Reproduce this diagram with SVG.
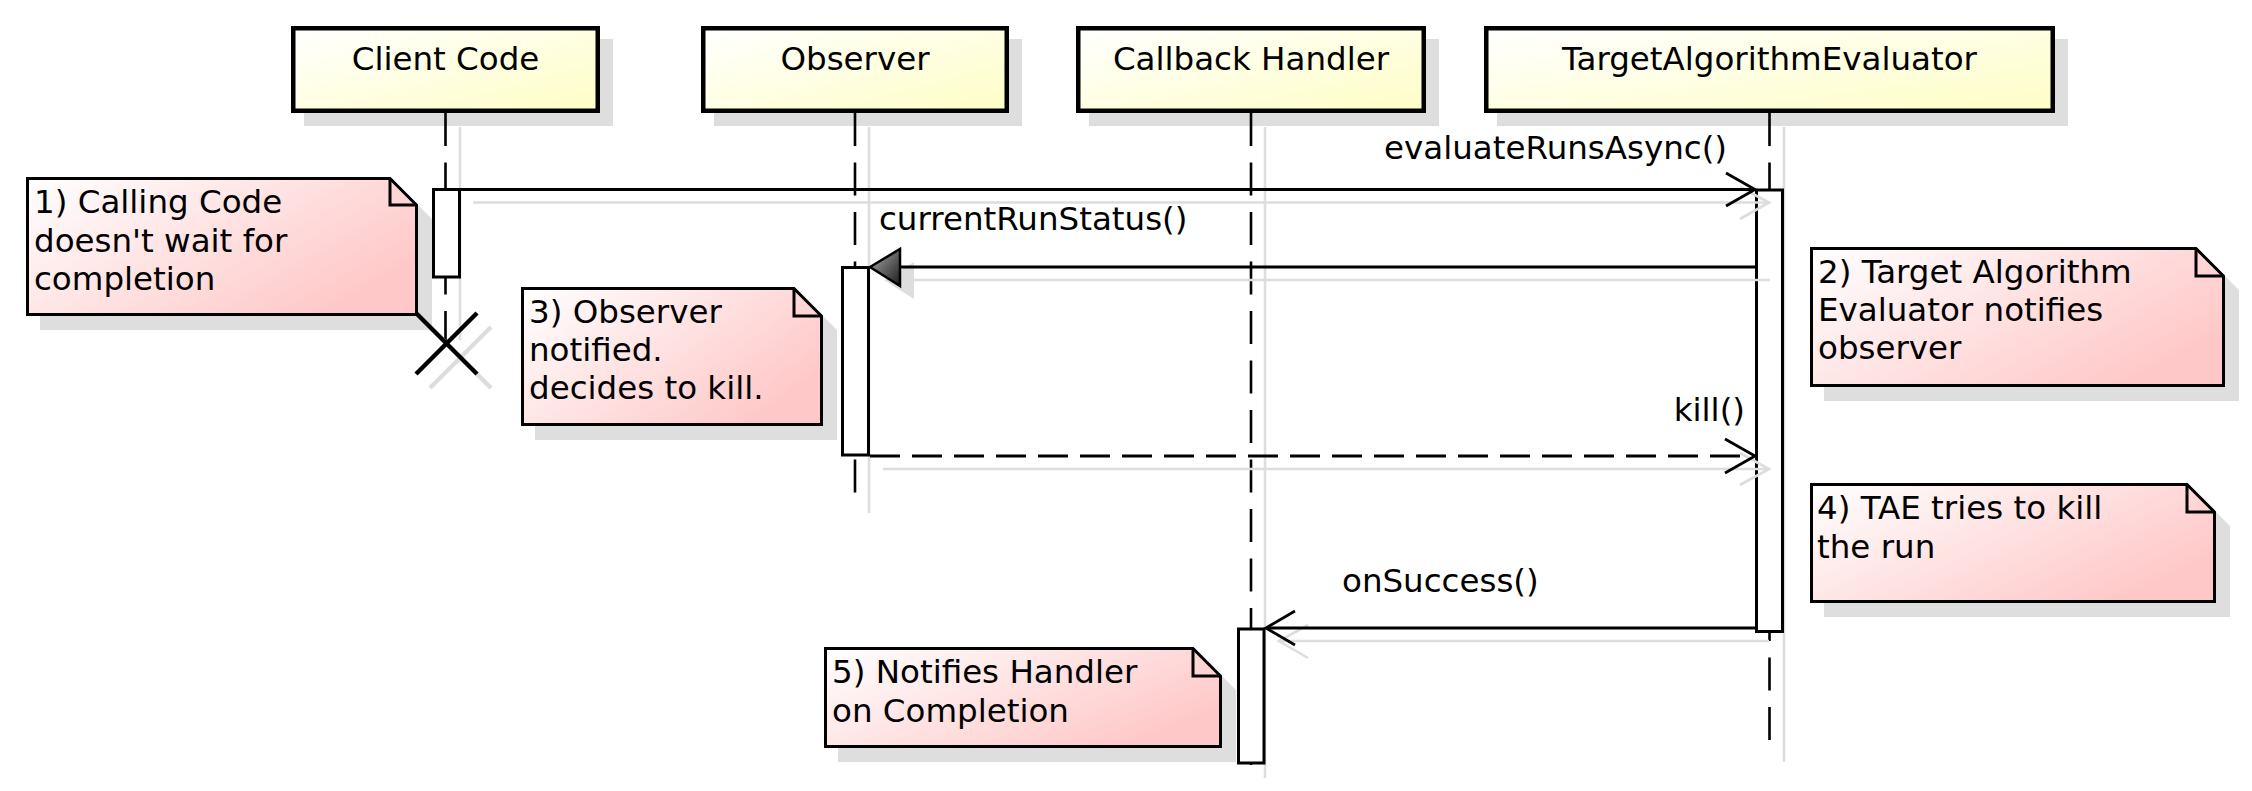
<svg xmlns="http://www.w3.org/2000/svg" width="2252" height="791" viewBox="0 0 2252 791">
<defs>
<linearGradient id="gPart" x1="0" y1="0" x2="1" y2="1">
<stop offset="0" stop-color="#FFFFFF"/>
<stop offset="1" stop-color="#FEFEC6"/>
</linearGradient>
<linearGradient id="gNote" x1="0" y1="0" x2="1" y2="0.6">
<stop offset="0" stop-color="#FFFFFF"/>
<stop offset="1" stop-color="#FFC8C8"/>
</linearGradient>
<linearGradient id="gTri" x1="0" y1="0" x2="1" y2="1">
<stop offset="0" stop-color="#B0B0B0"/>
<stop offset="1" stop-color="#1A1A1A"/>
</linearGradient>
</defs>
<style>
text{font-family:"DejaVu Sans","Liberation Sans",sans-serif;font-size:32.5px;fill:#000}
.pbox{fill:url(#gPart);stroke:#000;stroke-width:4.5}
.shadow{fill:#000;fill-opacity:0.13;stroke:none}
.shline{stroke:#DDDDDD;stroke-width:2.6;fill:none}
.life{stroke:#000;stroke-width:2.6;stroke-dasharray:33,16.5;fill:none}
.act{fill:#FFFFFF;stroke:#000;stroke-width:3}
.msg{stroke:#000;stroke-width:2.8;fill:none}
.dash{stroke-dasharray:30,12}
.note{fill:url(#gNote);stroke:#000;stroke-width:3;stroke-linejoin:miter}
.fold{fill:none;stroke:#000;stroke-width:3}
.xmark{stroke:#000;stroke-width:4.5;fill:none}
.xshadow{stroke:#DDDDDD;stroke-width:4.5;fill:none}
</style>

<!-- lifeline shadows and lifelines -->
<g id="lifelines">
<line class="shline" x1="460" y1="127" x2="460" y2="340"/>
<line class="shline" x1="869" y1="127" x2="869" y2="513"/>
<line class="shline" x1="1265" y1="127" x2="1265" y2="778"/>
<line class="shline" x1="1784" y1="127" x2="1784" y2="762"/>
<line class="life" x1="445.5" y1="113" x2="445.5" y2="343"/>
<line class="life" x1="855" y1="113" x2="855" y2="494"/>
<line class="life" x1="1251" y1="113" x2="1251" y2="765"/>
<line class="life" x1="1769.5" y1="113" x2="1769.5" y2="745"/>
</g>

<g id="client-code">
<rect class="shadow" x="304" y="39" width="309" height="87"/>
<rect class="pbox" x="293.25" y="28.25" width="304.5" height="82.5"/>
<text x="445.5" y="70" text-anchor="middle">Client Code</text>
</g>
<g id="observer">
<rect class="shadow" x="714" y="39" width="308" height="87"/>
<rect class="pbox" x="703.25" y="28.25" width="303.5" height="82.5"/>
<text x="855" y="70" text-anchor="middle">Observer</text>
</g>
<g id="callback-handler">
<rect class="shadow" x="1089" y="39" width="350" height="87"/>
<rect class="pbox" x="1078.25" y="28.25" width="345.5" height="82.5"/>
<text x="1251" y="70" text-anchor="middle">Callback Handler</text>
</g>
<g id="target-algorithm-evaluator">
<rect class="shadow" x="1497" y="39" width="571" height="87"/>
<rect class="pbox" x="1486.25" y="28.25" width="566.5" height="82.5"/>
<text x="1769.5" y="70" text-anchor="middle">TargetAlgorithmEvaluator</text>
</g>

<!-- destroy mark on Client Code lifeline -->
<g id="client-destroy">
<line class="xshadow" x1="430" y1="327" x2="491" y2="388"/>
<line class="xshadow" x1="430" y1="388" x2="491" y2="327"/>
<line class="xmark" x1="416" y1="313" x2="477" y2="374"/>
<line class="xmark" x1="416" y1="374" x2="477" y2="313"/>
</g>

<!-- activations -->
<g id="activations">
<rect class="act" x="433.5" y="189.5" width="26" height="87.5"/>
<rect class="act" x="1756.5" y="190" width="26" height="441.5"/>
<rect class="act" x="842.5" y="267.5" width="26" height="187.5"/>
<rect class="act" x="1238.5" y="629" width="25.5" height="134"/>
</g>

<!-- messages -->
<g id="connectors">
<!-- evaluateRunsAsync() -->
<line class="shline" x1="473" y1="202.5" x2="1769" y2="202.5"/>
<polyline class="shline" points="1740,187 1769,202.5 1740,219"/>
<line class="msg" x1="461" y1="189.5" x2="1754" y2="189.5"/>
<polyline class="msg" points="1726,173 1755,189.5 1726,206"/>
<text x="1727" y="159" text-anchor="end">evaluateRunsAsync()</text>

<!-- currentRunStatus() -->
<line class="shline" x1="912" y1="280" x2="1770" y2="280"/>
<polygon points="884,280 914,262 914,299" fill="#DDDDDD"/>
<line class="msg" x1="899" y1="267" x2="1755" y2="267"/>
<polygon points="870,267 900,249 900,286" fill="url(#gTri)" stroke="#000" stroke-width="2.5" stroke-linejoin="miter"/>
<text x="879" y="230">currentRunStatus()</text>

<!-- kill() -->
<line class="shline" x1="883" y1="469" x2="1769" y2="469"/>
<polyline class="shline" points="1740,453 1769,469 1740,485"/>
<line class="msg dash" x1="870" y1="456" x2="1754" y2="456"/>
<polyline class="msg" points="1725,439 1755,456 1725,473"/>
<text x="1745" y="421" text-anchor="end">kill()</text>

<!-- onSuccess() -->
<line class="shline" x1="1279" y1="641" x2="1769" y2="641"/>
<polyline class="shline" points="1308,625 1279,641 1308,658"/>
<line class="msg" x1="1267" y1="628" x2="1755" y2="628"/>
<polyline class="msg" points="1295,611 1266,628 1295,645"/>
<text x="1342" y="592">onSuccess()</text>
</g>

<!-- notes -->
<g id="note-1">
<path class="shadow" d="M40,191 H404 L432,219 V330 H40 Z"/>
<path class="note" d="M27.5,178.5 H390 L416.5,205 V314.5 H27.5 Z"/>
<path class="fold" d="M390,178.5 V205 H416.5"/>
<text x="34" y="213">1) Calling Code</text>
<text x="34" y="252">doesn't wait for</text>
<text x="34" y="290">completion</text>
</g>
<g id="note-2">
<path class="shadow" d="M1824,261 H2210 L2239,290 V401 H1824 Z"/>
<path class="note" d="M1811.5,248.5 H2196 L2223.5,276 V385.5 H1811.5 Z"/>
<path class="fold" d="M2196,248.5 V276 H2223.5"/>
<text x="1818" y="283">2) Target Algorithm</text>
<text x="1818" y="321">Evaluator notifies</text>
<text x="1818" y="359">observer</text>
</g>
<g id="note-3">
<path class="shadow" d="M535,301 H808 L837,330 V440 H535 Z"/>
<path class="note" d="M522.5,288.5 H794 L821.5,316 V424.5 H522.5 Z"/>
<path class="fold" d="M794,288.5 V316 H821.5"/>
<text x="529" y="323">3) Observer</text>
<text x="529" y="361">notified.</text>
<text x="529" y="399">decides to kill.</text>
</g>
<g id="note-4">
<path class="shadow" d="M1824,497 H2201 L2230,526 V617 H1824 Z"/>
<path class="note" d="M1811.5,484.5 H2187 L2214.5,512 V601.5 H1811.5 Z"/>
<path class="fold" d="M2187,484.5 V512 H2214.5"/>
<text x="1817" y="519">4) TAE tries to kill</text>
<text x="1817" y="558">the run</text>
</g>
<g id="note-5">
<path class="shadow" d="M838,661 H1207 L1236,690 V762 H838 Z"/>
<path class="note" d="M825.5,648.5 H1193 L1220.5,676 V746.5 H825.5 Z"/>
<path class="fold" d="M1193,648.5 V676 H1220.5"/>
<text x="832" y="683">5) Notifies Handler</text>
<text x="832" y="722">on Completion</text>
</g>
</svg>
